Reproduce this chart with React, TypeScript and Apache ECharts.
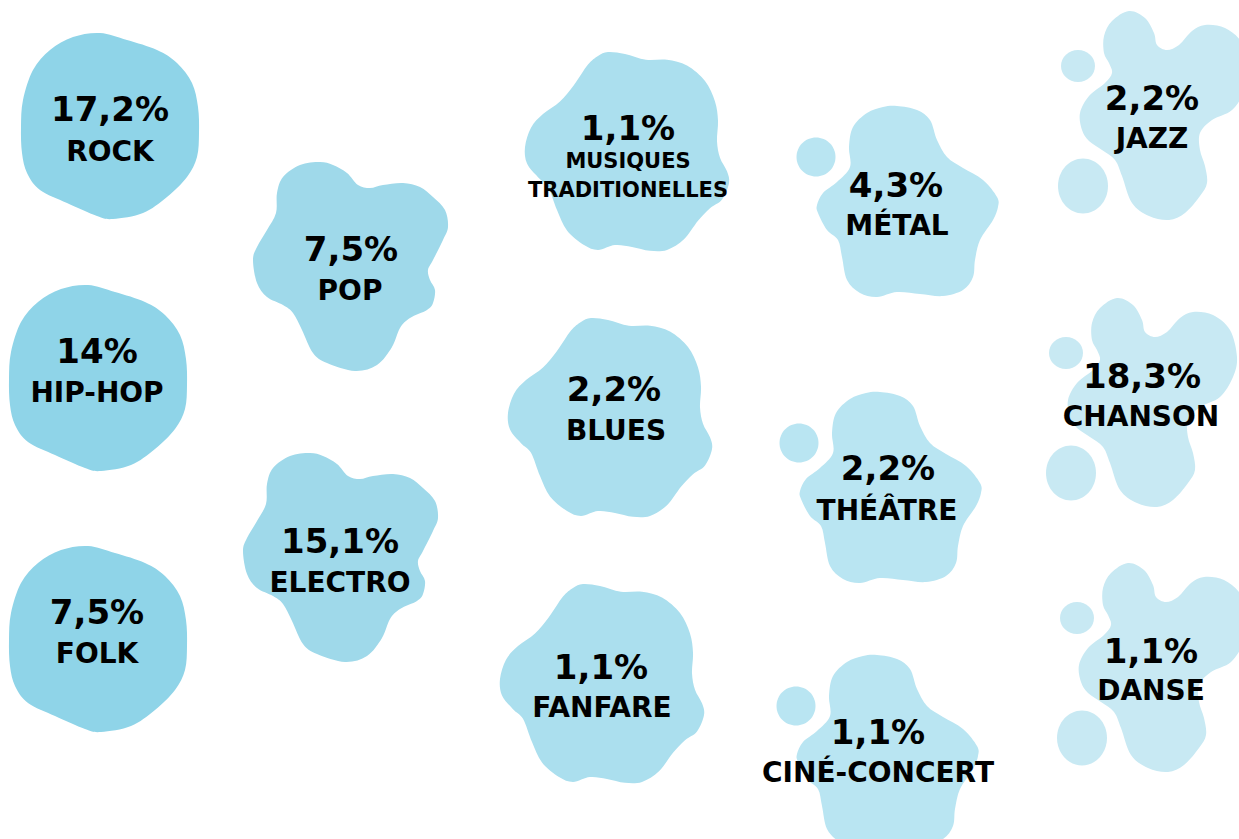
import React, { useEffect, useRef } from "react";
import * as echarts from "echarts";

// ---- data ----
const genres = [
  "ROCK", "HIP-HOP", "FOLK", "POP", "ELECTRO", "MUSIQUES\nTRADITIONELLES", "BLUES",
  "FANFARE", "MÉTAL", "THÉÂTRE", "CINÉ-CONCERT", "JAZZ", "CHANSON", "DANSE",
];
const shares = [17.2, 14, 7.5, 7.5, 15.1, 1.1, 2.2, 1.1, 4.3, 2.2, 1.1, 2.2, 18.3, 1.1];

// ---- layout (blob origin, label anchors) ----
const blobShape = [0, 0, 0, 1, 1, 2, 2, 2, 3, 3, 3, 4, 4, 4];
const blobX = [21, 9, 9, 253, 243, 525, 508, 500, 817, 800, 797, 1080, 1068, 1079];
const blobY = [33, 285, 546, 162, 453, 52, 318, 584, 106, 392, 655, 10, 297, 562];
const pctX = [110, 97, 97, 351, 340, 628, 614, 601, 896, 888, 878, 1152, 1142, 1151];
const pctY = [109, 351, 612, 249, 541, 128, 389, 667, 185, 468, 732, 98, 376, 651];
const nameX = [110, 97, 97, 350, 340, 628, 616, 602, 897, 887, 878, 1152, 1141, 1151];
const nameY = [151, 392, 653, 290, 582, 175, 430, 707, 225, 510, 772, 138, 416, 690];
const nameSize = [28, 28, 28, 28, 28, 21, 28, 28, 28, 28, 28, 28, 28, 28];

// ---- styles: shapes per column ----
const shapeColors = ["#8FD4E8", "#9FD9EA", "#ABDFEE", "#B9E5F2", "#C8E9F3"];
const shapeScaleY = [1, 1, 0.97, 1, 1];
const shapePoints: number[][][] = [
  [[79,0],[106,7],[136,17],[156,30],[171,50],[177,74],[178,100],[176,124],[166,144],[146,164],[122,180],[92,186],[76,183],[46,170],[19,157],[6,140],[1,120],[0,94],[2,67],[12,37],[29,17],[52,4]],
  [[67,0],[80,3],[94,11],[105,23],[117,26],[130,23],[150,21],[167,25],[180,35],[192,48],[195,65],[190,78],[180,98],[175,108],[177,118],[182,128],[180,141],[174,148],[157,156],[147,166],[139,185],[124,203],[102,209],[74,201],[60,191],[49,168],[40,151],[30,143],[14,135],[4,121],[0,98],[4,85],[14,68],[23,51],[24,31],[30,15],[47,3]],
  [[83,0],[100,2],[121,8],[142,8],[162,14],[180,30],[190,51],[193,71],[192,92],[195,109],[202,123],[204,135],[197,152],[185,161],[173,174],[159,193],[142,204],[125,205],[107,201],[90,199],[73,204],[59,199],[42,184],[32,163],[23,139],[13,129],[2,115],[0,98],[6,78],[18,64],[35,51],[49,34],[63,13],[73,4]],
  [[80,0],[100,4],[113,14],[120,34],[130,51],[146,62],[166,74],[180,91],[181,101],[176,114],[163,134],[158,154],[156,171],[146,184],[126,190],[103,188],[80,186],[60,191],[43,187],[30,174],[25,151],[21,134],[10,124],[1,107],[0,99],[6,87],[20,76],[33,61],[32,41],[36,21],[50,7],[66,1]],
  [[49,1],[65,8],[74,23],[77,35],[87,40],[99,35],[112,21],[125,15],[145,18],[162,33],[169,60],[165,80],[152,100],[132,110],[120,123],[120,140],[125,156],[127,173],[120,186],[105,203],[89,210],[69,206],[52,193],[42,166],[35,150],[22,140],[9,131],[2,120],[0,103],[9,86],[25,73],[32,63],[29,53],[24,43],[24,26],[32,11]],
];
// satellite drops: [cx, cy, rx, ry]
const shapeDrops: number[][][] = [
  [],
  [],
  [],
  [[-1, 51, 19.5, 19.5]],
  [[-2, 56, 17, 16], [3, 176, 25, 27.5]],
];

function smoothPath(pts: number[][]): string {
  const n = pts.length;
  let d = `M${pts[0][0]},${pts[0][1]}`;
  for (let i = 0; i < n; i++) {
    const p0 = pts[(i - 1 + n) % n];
    const p1 = pts[i];
    const p2 = pts[(i + 1) % n];
    const p3 = pts[(i + 2) % n];
    const c1x = p1[0] + (p2[0] - p0[0]) / 6;
    const c1y = p1[1] + (p2[1] - p0[1]) / 6;
    const c2x = p2[0] - (p3[0] - p1[0]) / 6;
    const c2y = p2[1] - (p3[1] - p1[1]) / 6;
    d += `C${c1x.toFixed(2)},${c1y.toFixed(2)},${c2x.toFixed(2)},${c2y.toFixed(2)},${p2[0]},${p2[1]}`;
  }
  return d + "Z";
}
const shapePaths = shapePoints.map(smoothPath);

const FONT = "'DejaVu Sans', sans-serif";
const fmt = (v: number) => String(v).replace(".", ",") + "%";

export default function App() {
  const ref = useRef<HTMLDivElement>(null);
  useEffect(() => {
    if (!ref.current) return;
    const chart = echarts.init(ref.current, undefined, { renderer: "svg" });
    chart.setOption({
      animation: false,
      backgroundColor: "#ffffff",
      grid: { left: 0, right: 0, top: 0, bottom: 0 },
      xAxis: { type: "value", min: 0, max: 1239, show: false },
      yAxis: { type: "value", min: 0, max: 839, inverse: true, show: false },
      series: [
        {
          type: "custom",
          coordinateSystem: "cartesian2d",
          clip: false,
          data: genres.map((g, i) => [blobX[i], blobY[i], shares[i]]),
          encode: { x: 0, y: 1 },
          renderItem: (params: any, api: any) => {
            const i = params.dataIndex;
            const o = api.coord([api.value(0), api.value(1)]);
            const u = api.coord([1, 1]);
            const z = api.coord([0, 0]);
            const sx = u[0] - z[0];
            const sy = u[1] - z[1];
            const s = blobShape[i];
            const fill = shapeColors[s];
            const children: any[] = [
              {
                type: "path",
                x: o[0],
                y: o[1],
                scaleX: sx,
                scaleY: sy * shapeScaleY[s],
                shape: { pathData: shapePaths[s] },
                style: { fill },
              },
            ];
            shapeDrops[s].forEach((dp) => {
              children.push({
                type: "ellipse",
                shape: { cx: o[0] + dp[0] * sx, cy: o[1] + dp[1] * sy, rx: dp[2] * sx, ry: dp[3] * sy },
                style: { fill },
              });
            });
            const pc = api.coord([pctX[i], pctY[i]]);
            const nc = api.coord([nameX[i], nameY[i]]);
            children.push({
              type: "text",
              x: pc[0],
              y: pc[1],
              style: {
                text: fmt(api.value(2)),
                fill: "#000000",
                fontFamily: FONT,
                fontWeight: "bold",
                fontSize: 34,
                align: "center",
                verticalAlign: "middle",
              },
            });
            children.push({
              type: "text",
              x: nc[0],
              y: nc[1],
              style: {
                text: genres[i],
                fill: "#000000",
                fontFamily: FONT,
                fontWeight: "bold",
                fontSize: nameSize[i],
                lineHeight: nameSize[i] + 8,
                align: "center",
                verticalAlign: "middle",
              },
            });
            return { type: "group", children };
          },
        },
      ],
    });
    return () => chart.dispose();
  }, []);
  return (
    <div
      ref={ref}
      style={{ position: "fixed", left: 0, top: 0, width: "100vw", height: "100vh", background: "#fff" }}
    />
  );
}
